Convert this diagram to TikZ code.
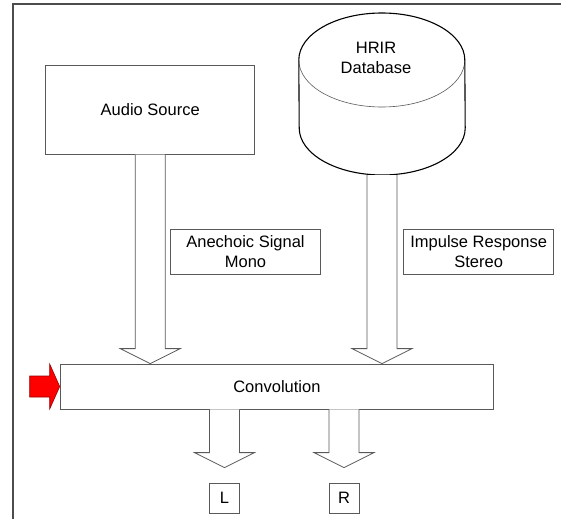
\documentclass[tikz,border=0pt]{standalone}
\usepackage{fontspec}
\setmainfont{Liberation Sans}
\usepackage{tikz}
\usetikzlibrary{calc}

\tikzset{
  box/.style={draw=black!65,line width=0.8pt,inner sep=0pt,align=center},
  blockarrow/.style={draw=black!65,line width=0.8pt,fill=white},
}
\newcommand{\blockdown}[2]{%
  \draw[blockarrow] ($(#1)+(-15,0)$) -- ($(#2)+(-15,-15)$) -- ($(#2)+(-30,-15)$)
    -- (#2) -- ($(#2)+(30,-15)$) -- ($(#2)+(15,-15)$) -- ($(#1)+(15,0)$);}

\begin{document}
\begin{tikzpicture}[x=1pt,y=-1pt,font=\fontsize{16.5}{20.5}\selectfont]
	\useasboundingbox (0,0) rectangle (561,519);
	% frame
	\draw[line width=1.5pt,black!70] (561,4) -- (13,4) -- (13,519);
	% sources
	\node[box,minimum width=209pt,minimum height=88.5pt] (src) at (150.2,110) {Audio Source};
	\node[inner sep=0pt,minimum width=166pt,minimum height=162pt] (db) at (382,94) {};
	\draw[black!65,line width=0.6pt] (db.west |- 0,60) arc[start angle=180,end angle=360,x radius=83pt,y radius=47pt];
	\draw[black,line width=1.1pt] (db.west |- 0,60) arc[start angle=180,end angle=0,x radius=83pt,y radius=47pt]
	  -- (db.east |- 0,128) arc[start angle=0,end angle=-180,x radius=83pt,y radius=47pt] -- cycle;
	\node[align=center] (dbtext) at (376,58) {HRIR\\Database};
	% convolution
	\node[box,minimum width=433.6pt,minimum height=45pt] (conv) at (276.9,386.5) {Convolution};
	\node[box,minimum width=149.5pt,minimum height=45pt] (sig) at (245.5,251.5) {Anechoic Signal\\Mono};
	\node[box,minimum width=150.2pt,minimum height=45pt] (ir) at (478.7,251.5) {Impulse Response\\Stereo};
	\node[box,minimum width=30.4pt,minimum height=30pt] (L) at (224.5,498) {L};
	\node[box,minimum width=30pt,minimum height=30pt] (R) at (344,498) {R};
	% arrows
	\coordinate (tipA) at (src.south |- conv.north);
	\coordinate (tipB) at (db.south |- conv.north);
	\coordinate (startL) at (L.north |- conv.south);
	\coordinate (startR) at (R.north |- conv.south);
	\coordinate (tipL) at ($(L.north)+(0,-15)$);
	\coordinate (tipR) at ($(R.north)+(0,-15)$);
	\blockdown{src.south}{tipA}
	\blockdown{db.south}{tipB}
	\blockdown{startL}{tipL}
	\blockdown{startR}{tipR}
	\coordinate (in) at ($(conv.west)+(-30,0)$);
	\draw[fill=red,draw=red!60!black,line width=0.6pt] ($(in)+(0,-10.5)$) -- ($(conv.west)+(-10,-10.5)$)
	  -- ($(conv.west)+(-10,-22.5)$) -- (conv.west) -- ($(conv.west)+(-10,22.5)$)
	  -- ($(conv.west)+(-10,10.5)$) -- ($(in)+(0,10.5)$) -- cycle;
\end{tikzpicture}
\end{document}
